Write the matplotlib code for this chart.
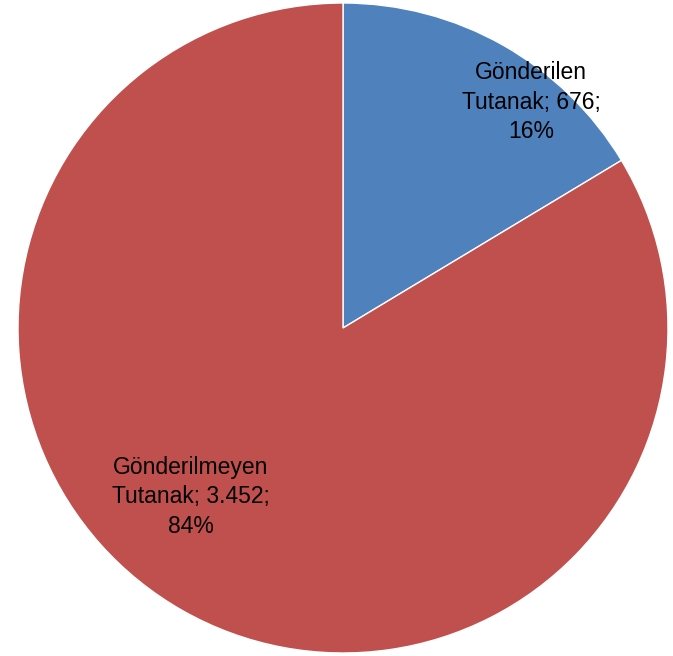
import matplotlib
matplotlib.use("Agg")
import matplotlib.pyplot as plt
from matplotlib import font_manager

categories = ["Gönderilen\nTutanak", "Gönderilmeyen\nTutanak"]
values = [676, 3452]
value_labels = ["676", "3.452"]
colors = ["#4F81BD", "#C0504D"]

names = {f.name for f in font_manager.fontManager.ttflist}
fam = ["Liberation Sans Narrow", "DejaVu Sans"] if "Liberation Sans Narrow" in names else ["Liberation Sans", "DejaVu Sans"]

W, H = 673, 656
fig = plt.figure(figsize=(W / 100, H / 100), dpi=100)
ax = fig.add_axes([0, 0, 1, 1])
ax.set_xlim(0, W)
ax.set_ylim(0, H)
ax.set_aspect("equal")
ax.axis("off")

cx, cy, r = 343, H - 328, 325
ax.pie(values, colors=colors, startangle=90, counterclock=False,
       center=(cx, cy), radius=r, frame=True,
       wedgeprops=dict(edgecolor="white", linewidth=1))
ax.set_xlim(0, W)
ax.set_ylim(0, H)
ax.axis("off")

total = sum(values)
label_pos = [(531, H - 102), (191, H - 497)]
for cat, v, vl, (x, y) in zip(categories, values, value_labels, label_pos):
    pct = round(100 * v / total)
    ax.text(x, y, f"{cat}; {vl};\n{pct}%", ha="center", va="center",
            fontsize=16.5, family=fam, color="black", linespacing=1.35)

fig.savefig("out.png", dpi=100)
